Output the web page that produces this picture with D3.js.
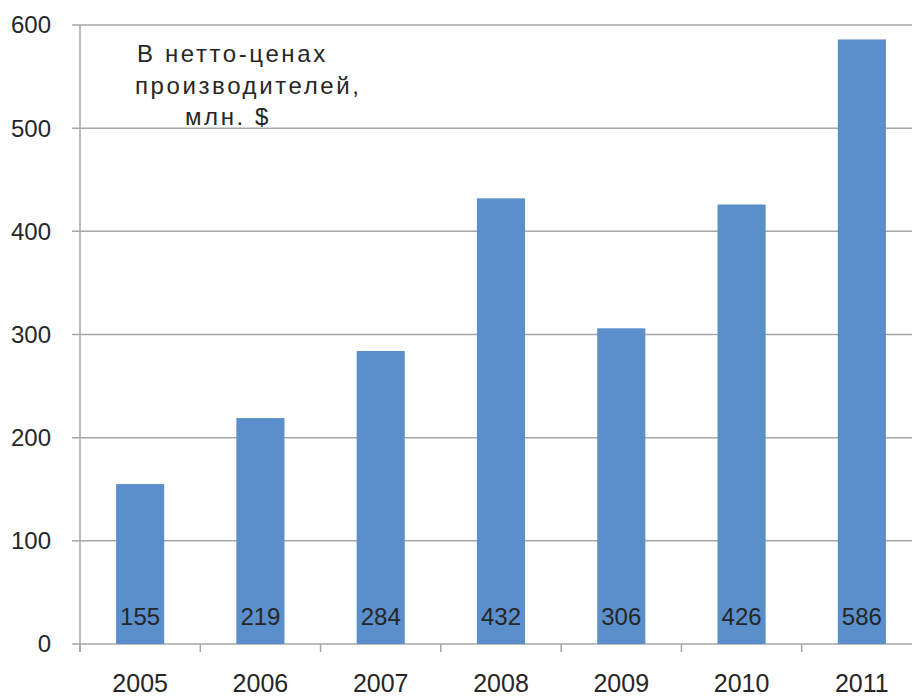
<!DOCTYPE html>
<html>
<head>
<meta charset="utf-8">
<script src="https://cdn.jsdelivr.net/npm/d3@7"></script>
<style>
  body { margin: 0; background: #fff; }
  text { font-family: "Liberation Sans", "DejaVu Sans", sans-serif; fill: #262626; }
</style>
</head>
<body>
<div id="chart"></div>
<script>
// data
const years = ["2005", "2006", "2007", "2008", "2009", "2010", "2011"];
const values = [155, 219, 284, 432, 306, 426, 586];
const yTicks = [0, 100, 200, 300, 400, 500, 600];
const titleLines = ["В нетто-ценах", "производителей,", "млн. $"];

// dimensions
const W = 912, H = 697;
const margin = { top: 25, right: -10, bottom: 53, left: 80 },
    width = W - margin.left - margin.right,
    height = H - margin.top - margin.bottom;

const svg = d3.select("#chart").append("svg")
    .attr("width", W)
    .attr("height", H);

const g = svg.append("g")
    .attr("transform", "translate(" + margin.left + "," + margin.top + ")");

// scales
const x = d3.scaleBand().domain(years).range([0, width]).paddingInner(0.6).paddingOuter(0.3);
const y = d3.scaleLinear().domain([0, 600]).range([height, 0]);

// gridlines
g.append("g")
    .selectAll("line")
    .data(yTicks)
    .enter().append("line")
    .attr("x1", -8)
    .attr("x2", width)
    .attr("y1", d => y(d))
    .attr("y2", d => y(d))
    .attr("stroke", "#a6a6a6")
    .attr("stroke-width", 1.5);

// y axis line
g.append("line")
    .attr("x1", 0).attr("x2", 0)
    .attr("y1", 0).attr("y2", height + 8)
    .attr("stroke", "#a6a6a6")
    .attr("stroke-width", 1.5);

// y labels
g.append("g")
    .selectAll("text")
    .data(yTicks)
    .enter().append("text")
    .attr("x", -29)
    .attr("y", d => y(d))
    .attr("dy", "0.35em")
    .attr("text-anchor", "end")
    .style("font-size", "24px")
    .text(d => d);

// bars
g.append("g")
    .selectAll("rect")
    .data(values)
    .enter().append("rect")
    .attr("x", (d, i) => x(years[i]))
    .attr("width", x.bandwidth())
    .attr("y", d => y(d))
    .attr("height", d => height - y(d))
    .attr("fill", "#5b8fcb");

// bottom tick marks between categories
const step = x.step();
const x0 = x(years[0]) - x.paddingOuter() * step;
g.append("g")
    .selectAll("line")
    .data(d3.range(years.length + 1))
    .enter().append("line")
    .attr("x1", i => x0 + i * step)
    .attr("x2", i => x0 + i * step)
    .attr("y1", height)
    .attr("y2", height + 8)
    .attr("stroke", "#a6a6a6")
    .attr("stroke-width", 1.5);

// year labels
g.append("g")
    .selectAll("text")
    .data(years)
    .enter().append("text")
    .attr("x", d => x(d) + x.bandwidth() / 2)
    .attr("y", height + 48)
    .attr("text-anchor", "middle")
    .style("font-size", "25px")
    .text(d => d);

// value labels inside bars
g.append("g")
    .selectAll("text")
    .data(values)
    .enter().append("text")
    .attr("x", (d, i) => x(years[i]) + x.bandwidth() / 2)
    .attr("y", height - 19)
    .attr("text-anchor", "middle")
    .style("font-size", "24px")
    .text(d => d);

// title block
const titleX = [137, 135, 185];
svg.append("g")
    .selectAll("text")
    .data(titleLines)
    .enter().append("text")
    .attr("x", (d, i) => titleX[i])
    .attr("y", (d, i) => 62 + i * 31.5)
    .style("font-size", "24px")
    .style("letter-spacing", "2.6px")
    .text(d => d);
</script>
</body>
</html>
